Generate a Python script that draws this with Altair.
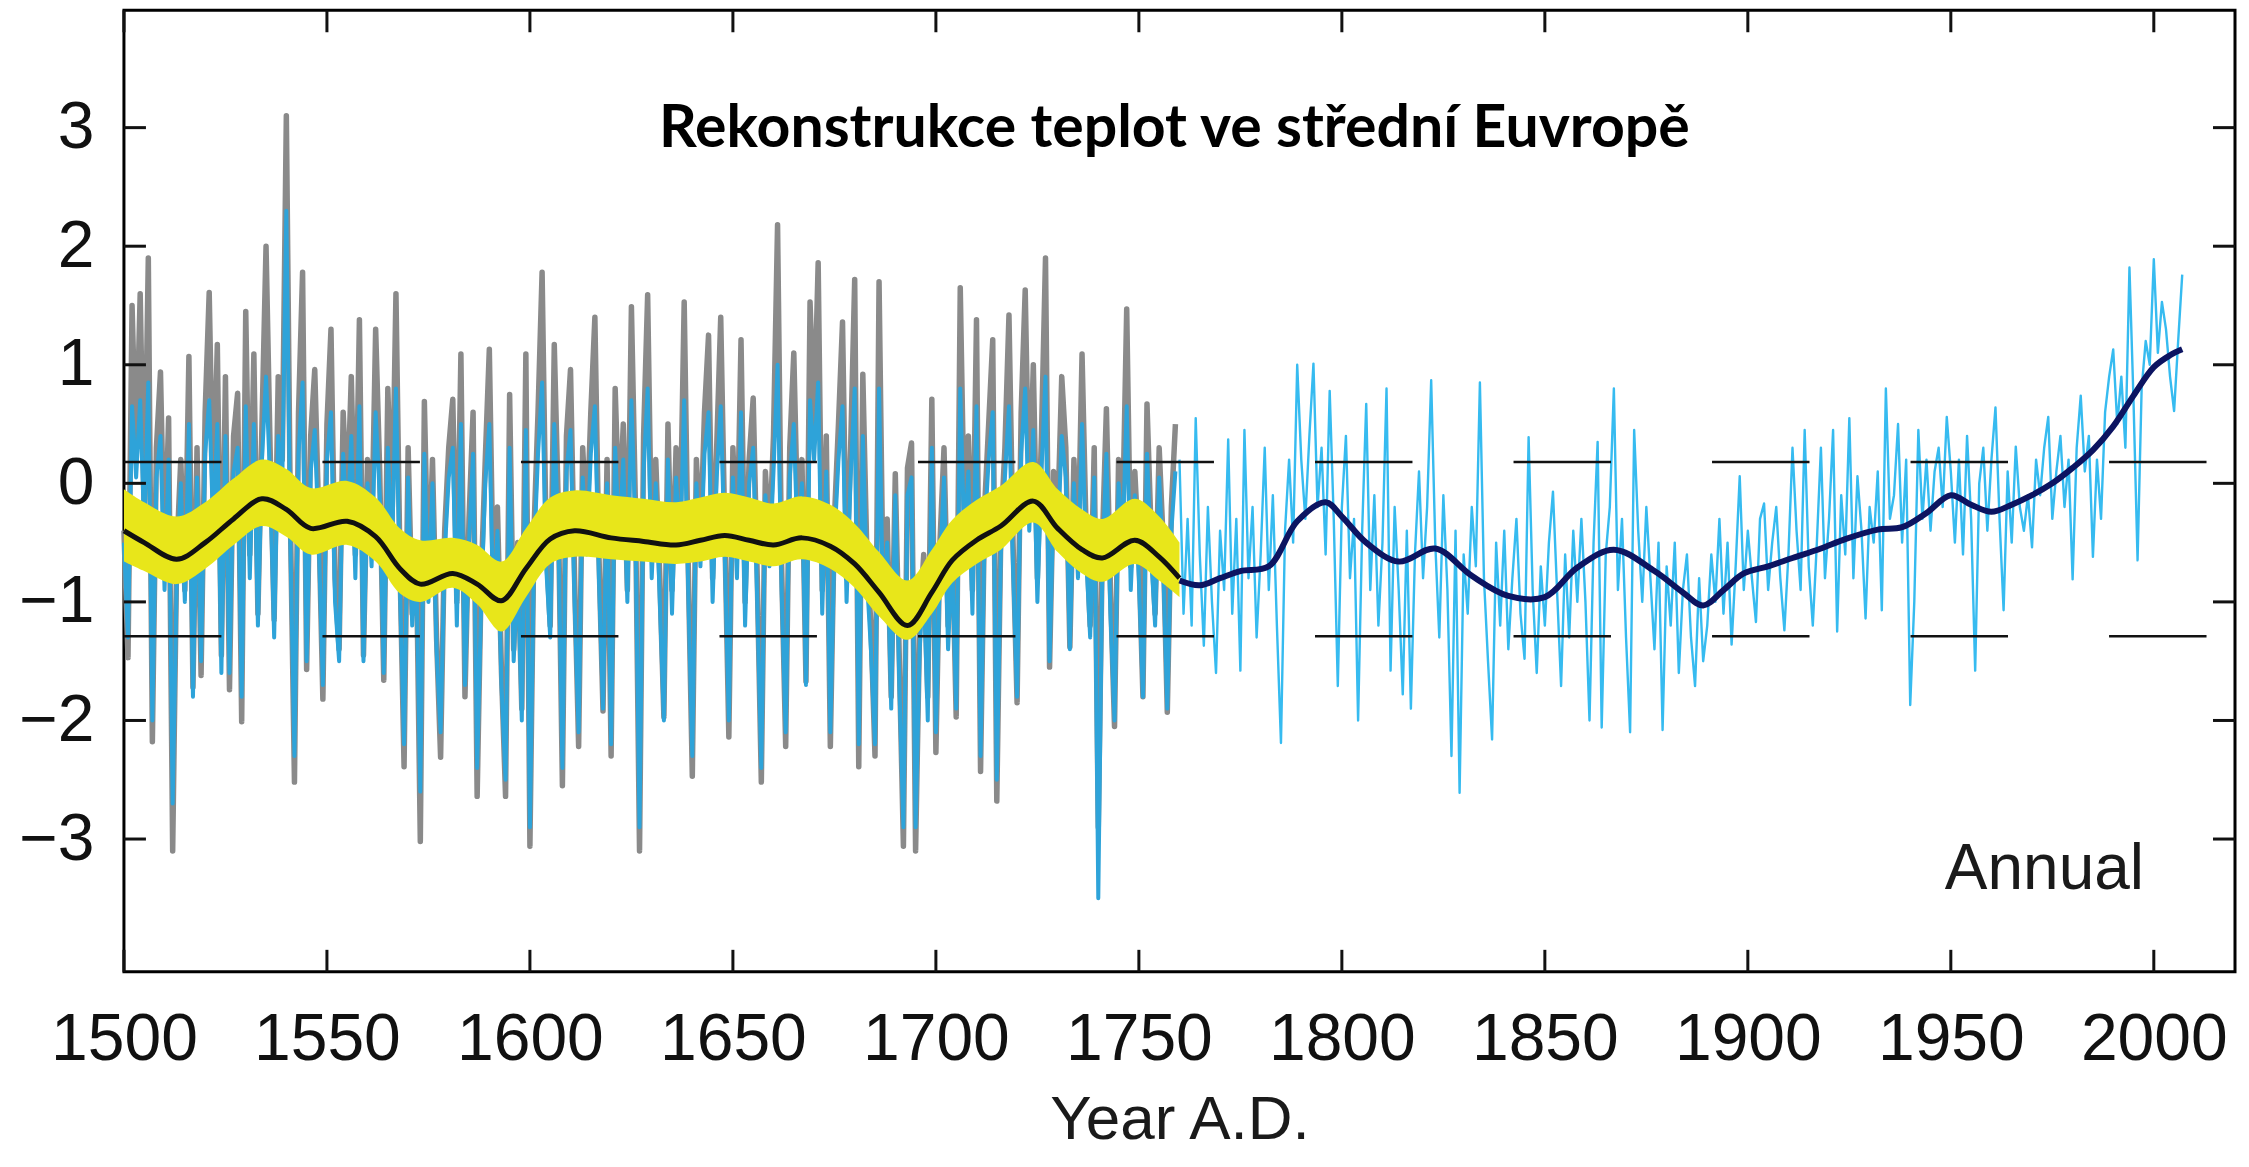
import altair as alt
import pandas as pd

# ---------------- data ----------------
x_ticks = [1500, 1550, 1600, 1650, 1700, 1750, 1800, 1850, 1900, 1950, 2000]
y_ticks = [-3, -2, -1, 0, 1, 2, 3]
dash_levels = [0.18, -1.29]
title_text = "Rekonstrukce teplot ve střední Euvropě"
annual_text = "Annual"

# grey reconstruction, annual 1500-1759
grey_vals = [
    -0.4, -1.47, 1.5, 0.2, 1.6, -0.3, 1.9, -2.18, 0.3, 0.94,
    -0.7, 0.55, -3.1, -0.6, 0.2, -0.9, 1.07, -1.72, 0.3, -1.62,
    0.6, 1.61, -0.2, 1.17, -1.45, 0.9, -1.74, 0.4, 0.76, -2.01,
    1.45, -0.6, 1.09, -1.1, 0.5, 2.0, 0.3, -1.15, 0.9, 0.2,
    3.1, -0.3, -2.52, 0.6, 1.78, -1.57, 0.4, 0.96, -0.3, -1.82,
    0.5, 1.3, -0.8, -1.4, 0.6, -0.2, 0.9, -0.6, 1.38, -1.45,
    0.2, -0.5, 1.3, 0.1, -1.66, 0.8, -0.4, 1.6, -0.7, -2.39,
    0.3, -1.1, -0.5, -3.02, 0.69, -0.9, 0.2, -1.3, -2.31, -0.4,
    0.3, 0.71, -1.0, 1.09, -1.8, -0.3, 0.6, -2.64, -0.8, 0.2,
    1.13, -0.9, -0.2, -1.6, -2.64, 0.75, -1.4, -0.5, -1.9, 1.09,
    -3.06, -0.4, 0.6, 1.78, -0.5, -1.2, 1.17, -0.2, -2.55, 0.4,
    0.96, -0.8, -2.22, 0.3, -0.4, 0.6, 1.4, -0.6, -1.92, 0.2,
    -2.3, 0.8, -0.3, 0.5, -0.9, 1.49, -0.2, -3.1, 0.4, 1.59,
    -0.6, 0.2, -0.8, -1.97, 0.5, -0.9, 0.3, -0.4, 1.53, -0.7,
    -2.47, 0.2, -0.5, 0.6, 1.25, -0.8, 0.3, 1.4, -0.4, -2.14,
    0.3, -0.6, 1.21, -1.0, 0.2, 0.72, -0.8, -2.52, 0.1, -0.5,
    0.4, 2.18, -0.7, -2.22, 0.3, 1.1, -0.4, 0.2, -1.67, 1.53,
    0.5, 1.86, -0.9, 0.4, -2.22, -0.3, 0.5, 1.36, -0.8, 0.3,
    1.72, -2.39, 0.92, -0.6, -1.2, -2.3, 1.7, -0.9, -0.3, -1.8,
    0.08, -1.5, -3.06, 0.13, 0.34, -3.1, -1.2, -0.6, -1.8, 0.71,
    -2.27, -0.5, 0.3, -1.2, -0.4, -1.97, 1.65, -0.3, 0.4, -0.9,
    1.38, -2.43, -0.2, 0.5, 1.21, -2.68, -0.4, 0.3, 1.42, -0.5,
    -1.85, 0.6, 1.63, -0.2, 1.0, -0.8, 0.4, 1.9, -1.55, 0.1,
    -0.3, 0.9, 0.3, -1.38, 0.2, -0.6, 1.09, -0.4, -1.2, 0.3,
    -2.9, -0.5, 0.63, -0.9, -2.05, 0.2, -0.3, 1.47, -0.7, 0.1,
    -0.6, -1.8, 0.67, -0.4, -1.1, 0.3, -0.5, -1.93, -0.2, 0.5,
]

# blue reconstruction, annual 1500-1759
blue_early_vals = [
    -0.5, -1.3, 0.65, 0.05, 0.7, -0.4, 0.85, -2.0, 0.05, 0.4,
    -0.9, 0.2, -2.7, -0.8, 0.0, -1.0, 0.5, -1.8, 0.05, -1.5,
    0.25, 0.7, -0.4, 0.5, -1.6, 0.4, -1.6, 0.1, 0.3, -1.8,
    0.65, -0.8, 0.5, -1.2, 0.2, 0.9, 0.05, -1.3, 0.4, 0.0,
    2.3, -0.5, -2.3, 0.25, 0.85, -1.5, 0.1, 0.45, -0.5, -1.7,
    0.2, 0.6, -1.0, -1.5, 0.25, -0.4, 0.4, -0.8, 0.65, -1.5,
    0.0, -0.7, 0.6, -0.1, -1.6, 0.3, -0.6, 0.8, -0.9, -2.2,
    0.05, -1.2, -0.7, -2.6, 0.25, -1.0, 0.0, -1.4, -2.1, -0.6,
    0.05, 0.3, -1.2, 0.5, -1.7, -0.5, 0.25, -2.4, -1.0, 0.0,
    0.5, -1.1, -0.4, -1.7, -2.5, 0.3, -1.5, -0.7, -2.0, 0.45,
    -2.9, -0.6, 0.25, 0.85, -0.7, -1.3, 0.5, -0.4, -2.4, 0.1,
    0.45, -1.0, -2.1, 0.05, -0.6, 0.25, 0.65, -0.8, -1.9, 0.0,
    -2.2, 0.3, -0.5, 0.2, -1.0, 0.7, -0.4, -2.9, 0.1, 0.8,
    -0.8, 0.0, -1.0, -2.0, 0.2, -1.1, 0.05, -0.6, 0.7, -0.9,
    -2.3, 0.0, -0.7, 0.25, 0.6, -1.0, 0.05, 0.65, -0.6, -2.0,
    0.05, -0.8, 0.6, -1.2, 0.0, 0.3, -1.0, -2.4, -0.1, -0.7,
    0.1, 1.0, -0.9, -2.1, 0.05, 0.5, -0.6, 0.0, -1.7, 0.7,
    0.2, 0.85, -1.1, 0.1, -2.1, -0.5, 0.2, 0.65, -1.0, 0.05,
    0.8, -2.2, 0.4, -0.8, -1.4, -2.2, 0.8, -1.1, -0.5, -1.9,
    -0.1, -1.7, -2.9, -0.1, 0.05, -2.9, -1.4, -0.8, -2.0, 0.3,
    -2.1, -0.7, 0.05, -1.4, -0.6, -1.9, 0.8, -0.5, 0.1, -1.1,
    0.65, -2.3, -0.4, 0.2, 0.6, -2.5, -0.6, 0.05, 0.65, -0.7,
    -1.8, 0.25, 0.8, -0.4, 0.45, -1.0, 0.1, 0.9, -1.5, -0.1,
    -0.5, 0.4, 0.05, -1.4, 0.0, -0.8, 0.5, -0.6, -1.3, 0.05,
    -3.5, -0.7, 0.25, -1.1, -2.0, 0.0, -0.5, 0.65, -0.9, -0.1,
    -0.8, -1.8, 0.25, -0.6, -1.2, 0.05, -0.7, -1.9, -0.4, 0.1,
]

# light-blue series, annual 1760-2007
blue_late_vals = [
    0.2, -1.1, -0.3, -1.2, 0.55, -0.6, -1.37, -0.2, -1.0, -1.6,
    -0.4, -0.9, 0.37, -1.1, -0.3, -1.58, 0.45, -0.8, -0.2, -1.3,
    -0.6, 0.3, -0.9, -0.1, -1.2, -2.19, -0.4, 0.2, -0.5, 1.0,
    0.2, -0.3, 0.4, 1.01, -0.2, 0.3, -0.6, 0.78, -0.3, -1.71,
    -0.2, 0.4, -0.8, -0.3, -2.0, -0.4, 0.67, -0.9, -0.1, -1.2,
    -0.5, 0.8, -1.58, -0.2, -0.9, -1.78, -0.4, -1.9, -0.6, 0.1,
    -0.8, -0.2, 0.87, -0.5, -1.3, -0.1, -0.9, -2.3, -0.4, -2.61,
    -0.6, -1.1, -0.2, -0.7, 0.85, -0.8, -1.5, -2.16, -0.5, -1.2,
    -0.4, -1.4, -0.8, -0.3, -1.1, -1.48, 0.39, -0.9, -1.6, -0.7,
    -1.2, -0.5, -0.07, -0.9, -1.71, -0.6, -1.3, -0.4, -1.0, -0.3,
    -1.0, -2.0, -0.5, 0.35, -2.06, -0.6, -0.2, 0.8, -0.9, -0.3,
    -1.3, -2.1, 0.45, -0.4, -1.0, -0.2, -0.8, -1.4, -0.5, -2.08,
    -0.7, -1.2, -0.5, -1.6, -0.9, -0.6, -1.3, -1.71, -0.8, -1.5,
    -1.2, -0.6, -1.0, -0.3, -1.1, -0.5, -1.36, -0.7, 0.06, -0.9,
    -0.4, -0.8, -1.17, -0.3, -0.17, -0.9, -0.5, -0.2, -0.8, -1.24,
    -0.6, 0.3, -0.4, -0.9, 0.45, -0.7, -1.2, -0.5, 0.3, -0.8,
    -0.3, 0.45, -1.25, -0.1, -0.6, 0.55, -0.8, 0.06, -0.4, -1.14,
    -0.2, -0.5, 0.1, -1.07, 0.8, -0.3, -0.1, 0.5, -0.5, 0.2,
    -1.87, -1.0, 0.45, -0.3, 0.2, -0.4, 0.1, 0.3, -0.2, 0.56,
    0.1, -0.5, 0.2, -0.6, 0.4, -0.3, -1.58, 0.0, 0.3, -0.4,
    0.2, 0.64, -0.3, -1.07, 0.1, -0.5, 0.31, -0.2, -0.4, -0.1,
    -0.54, 0.2, -0.1, 0.3, 0.56, -0.3, 0.1, 0.4, -0.2, 0.2,
    -0.81, 0.3, 0.74, 0.1, 0.4, -0.62, 0.2, -0.3, 0.6, 0.9,
    1.13, 0.5, 0.9, 0.3, 1.82, 0.7, -0.65, 0.8, 1.2, 1.0,
    1.89, 1.1, 1.53, 1.3, 0.9, 0.61, 1.2, 1.76,
]

# smoothed early curve (black) with its uncertainty band (yellow)
smooth_early_years = [1500, 1505, 1513, 1520, 1527, 1534, 1540, 1546, 1555, 1562,
                      1568, 1573, 1581, 1587, 1593, 1599, 1605, 1611, 1620, 1628,
                      1636, 1642, 1648, 1654, 1660, 1667, 1674, 1680, 1686, 1693,
                      1699, 1704, 1710, 1716, 1724, 1730, 1736, 1741, 1749, 1755, 1760]
smooth_early_vals = [-0.40, -0.50, -0.64, -0.50, -0.30, -0.13, -0.22, -0.38, -0.32, -0.45,
                     -0.72, -0.85, -0.76, -0.85, -0.99, -0.72, -0.47, -0.40, -0.46, -0.49,
                     -0.52, -0.48, -0.44, -0.48, -0.52, -0.46, -0.53, -0.68, -0.92, -1.20,
                     -0.92, -0.65, -0.48, -0.36, -0.15, -0.38, -0.56, -0.63, -0.48, -0.62, -0.80]
band_hi = [-0.05, -0.16, -0.28, -0.16, 0.04, 0.20, 0.12, -0.04, 0.02, -0.12,
           -0.38, -0.48, -0.46, -0.52, -0.66, -0.38, -0.12, -0.06, -0.10, -0.13,
           -0.16, -0.12, -0.08, -0.12, -0.17, -0.11, -0.18, -0.34, -0.58, -0.82,
           -0.56, -0.31, -0.14, -0.02, 0.18, -0.05, -0.22, -0.30, -0.13, -0.28, -0.50]
band_lo = [-0.66, -0.74, -0.85, -0.72, -0.52, -0.36, -0.45, -0.60, -0.52, -0.66,
           -0.93, -1.00, -0.88, -1.02, -1.25, -0.96, -0.68, -0.62, -0.64, -0.66,
           -0.68, -0.66, -0.62, -0.66, -0.70, -0.64, -0.72, -0.88, -1.12, -1.32,
           -1.10, -0.84, -0.68, -0.56, -0.33, -0.58, -0.76, -0.83, -0.68, -0.82, -0.96]

# smoothed late curve (navy)
smooth_late_years = [1760, 1765, 1770, 1775, 1782, 1789, 1796, 1800, 1806, 1814,
                     1823, 1832, 1841, 1850, 1858, 1867, 1877, 1884, 1889, 1894,
                     1899, 1905, 1911, 1918, 1924, 1932, 1938, 1944, 1950, 1955,
                     1960, 1965, 1970, 1975, 1980, 1985, 1990, 1995, 2000, 2004, 2007]
smooth_late_vals = [-0.82, -0.86, -0.80, -0.74, -0.70, -0.32, -0.16, -0.28, -0.50, -0.66,
                    -0.55, -0.78, -0.95, -0.96, -0.71, -0.56, -0.74, -0.92, -1.03, -0.90,
                    -0.76, -0.70, -0.63, -0.55, -0.47, -0.39, -0.37, -0.25, -0.10, -0.18,
                    -0.24, -0.18, -0.10, 0.00, 0.13, 0.28, 0.48, 0.74, 0.98, 1.08, 1.13]

# ---------------- tables ----------------
early_years = list(range(1500, 1500 + len(grey_vals)))
late_years = list(range(1760, 1760 + len(blue_late_vals)))
early = pd.DataFrame({"year": early_years, "grey": grey_vals, "blue": blue_early_vals})
late = pd.DataFrame({"year": late_years, "blue": blue_late_vals})
s_early = pd.DataFrame({"year": smooth_early_years, "v": smooth_early_vals,
                        "hi": band_hi, "lo": band_lo})
s_late = pd.DataFrame({"year": smooth_late_years, "v": smooth_late_vals})
xt = pd.DataFrame({"year": x_ticks})
yt = pd.DataFrame({"val": y_ticks})
dashes = pd.DataFrame({"val": dash_levels})

# ---------------- layout ----------------
W, H = 2112, 962
FONT = "Liberation Sans"
xs = alt.Scale(domain=[1500, 2020], nice=False, zero=False)
ys = alt.Scale(domain=[-4.12, 3.99], nice=False, zero=False)

x_axis = alt.Axis(values=x_ticks, format="d", ticks=False, domain=False, grid=False,
                  labelFont=FONT, labelFontSize=66, labelColor="#111111", labelPadding=36,
                  labelFlush=False, labelOverlap=False,
                  title="Year A.D.", titleFont=FONT, titleFontSize=62,
                  titleFontWeight="normal", titleColor="#1a1a1a", titlePadding=17)
y_axis = alt.Axis(values=y_ticks, format="d", ticks=False, domain=False, grid=False,
                  labelFont=FONT, labelFontSize=66, labelColor="#111111", labelPadding=30,
                  labelFlush=False, labelOverlap=False, title="")


def X(field):
    return alt.X(field, scale=xs, axis=x_axis)


def Y(field):
    return alt.Y(field, scale=ys, axis=y_axis)


grey = alt.Chart(early).mark_line(color="#8a8a8a", strokeWidth=5.5, strokeJoin="round").encode(
    x=X("year:Q"), y=Y("grey:Q"))
blue1 = alt.Chart(early).mark_line(color="#2ea3d9", strokeWidth=4.0, strokeJoin="round").encode(
    x=X("year:Q"), y=Y("blue:Q"))
blue2 = alt.Chart(late).mark_line(color="#36bbf0", strokeWidth=2.4, strokeJoin="round").encode(
    x=X("year:Q"), y=Y("blue:Q"))
band = alt.Chart(s_early).mark_area(color="#e8e61a", opacity=1, interpolate="catmull-rom").encode(
    x=X("year:Q"), y=Y("lo:Q"), y2="hi:Q")
black = alt.Chart(s_early).mark_line(color="#111111", strokeWidth=5, interpolate="catmull-rom").encode(
    x=X("year:Q"), y=Y("v:Q"))
navy = alt.Chart(s_late).mark_line(color="#0c1461", strokeWidth=6, interpolate="catmull-rom").encode(
    x=X("year:Q"), y=Y("v:Q"))
dash = alt.Chart(dashes).mark_rule(color="#111111", strokeWidth=2.6, strokeDash=[97.5, 101.1]).encode(
    y=Y("val:Q"), x=alt.value(0), x2=alt.value(W))

tick_style = dict(color="#111111", strokeWidth=3)
bt = alt.Chart(xt).mark_rule(**tick_style).encode(x=X("year:Q"), y=alt.value(H), y2=alt.value(H - 22))
tt = alt.Chart(xt).mark_rule(**tick_style).encode(x=X("year:Q"), y=alt.value(0), y2=alt.value(22))
lt = alt.Chart(yt).mark_rule(**tick_style).encode(y=Y("val:Q"), x=alt.value(0), x2=alt.value(22))
rt = alt.Chart(yt).mark_rule(**tick_style).encode(y=Y("val:Q"), x=alt.value(W), x2=alt.value(W - 22))

title = alt.Chart(pd.DataFrame({"t": [title_text]})).mark_text(
    font="Lato", fontWeight="bold", fontSize=59, align="center", baseline="alphabetic",
    color="#000000").encode(x=alt.value(1051), y=alt.value(137), text="t:N")
annual = alt.Chart(pd.DataFrame({"t": [annual_text]})).mark_text(
    font=FONT, fontSize=64, align="right", baseline="alphabetic",
    color="#1a1a1a").encode(x=alt.value(2021), y=alt.value(879), text="t:N")

chart = alt.layer(
    grey, blue1, blue2, band, black, navy, dash, bt, tt, lt, rt, title, annual
).properties(
    width=W, height=H,
    autosize=alt.AutoSizeParams(type="none"),
    padding={"left": 116, "top": 2, "right": 6, "bottom": 181},
    background="white",
).configure_view(stroke="black", strokeWidth=3)

chart.save("out.html", embed_options={"renderer": "svg", "actions": False})
